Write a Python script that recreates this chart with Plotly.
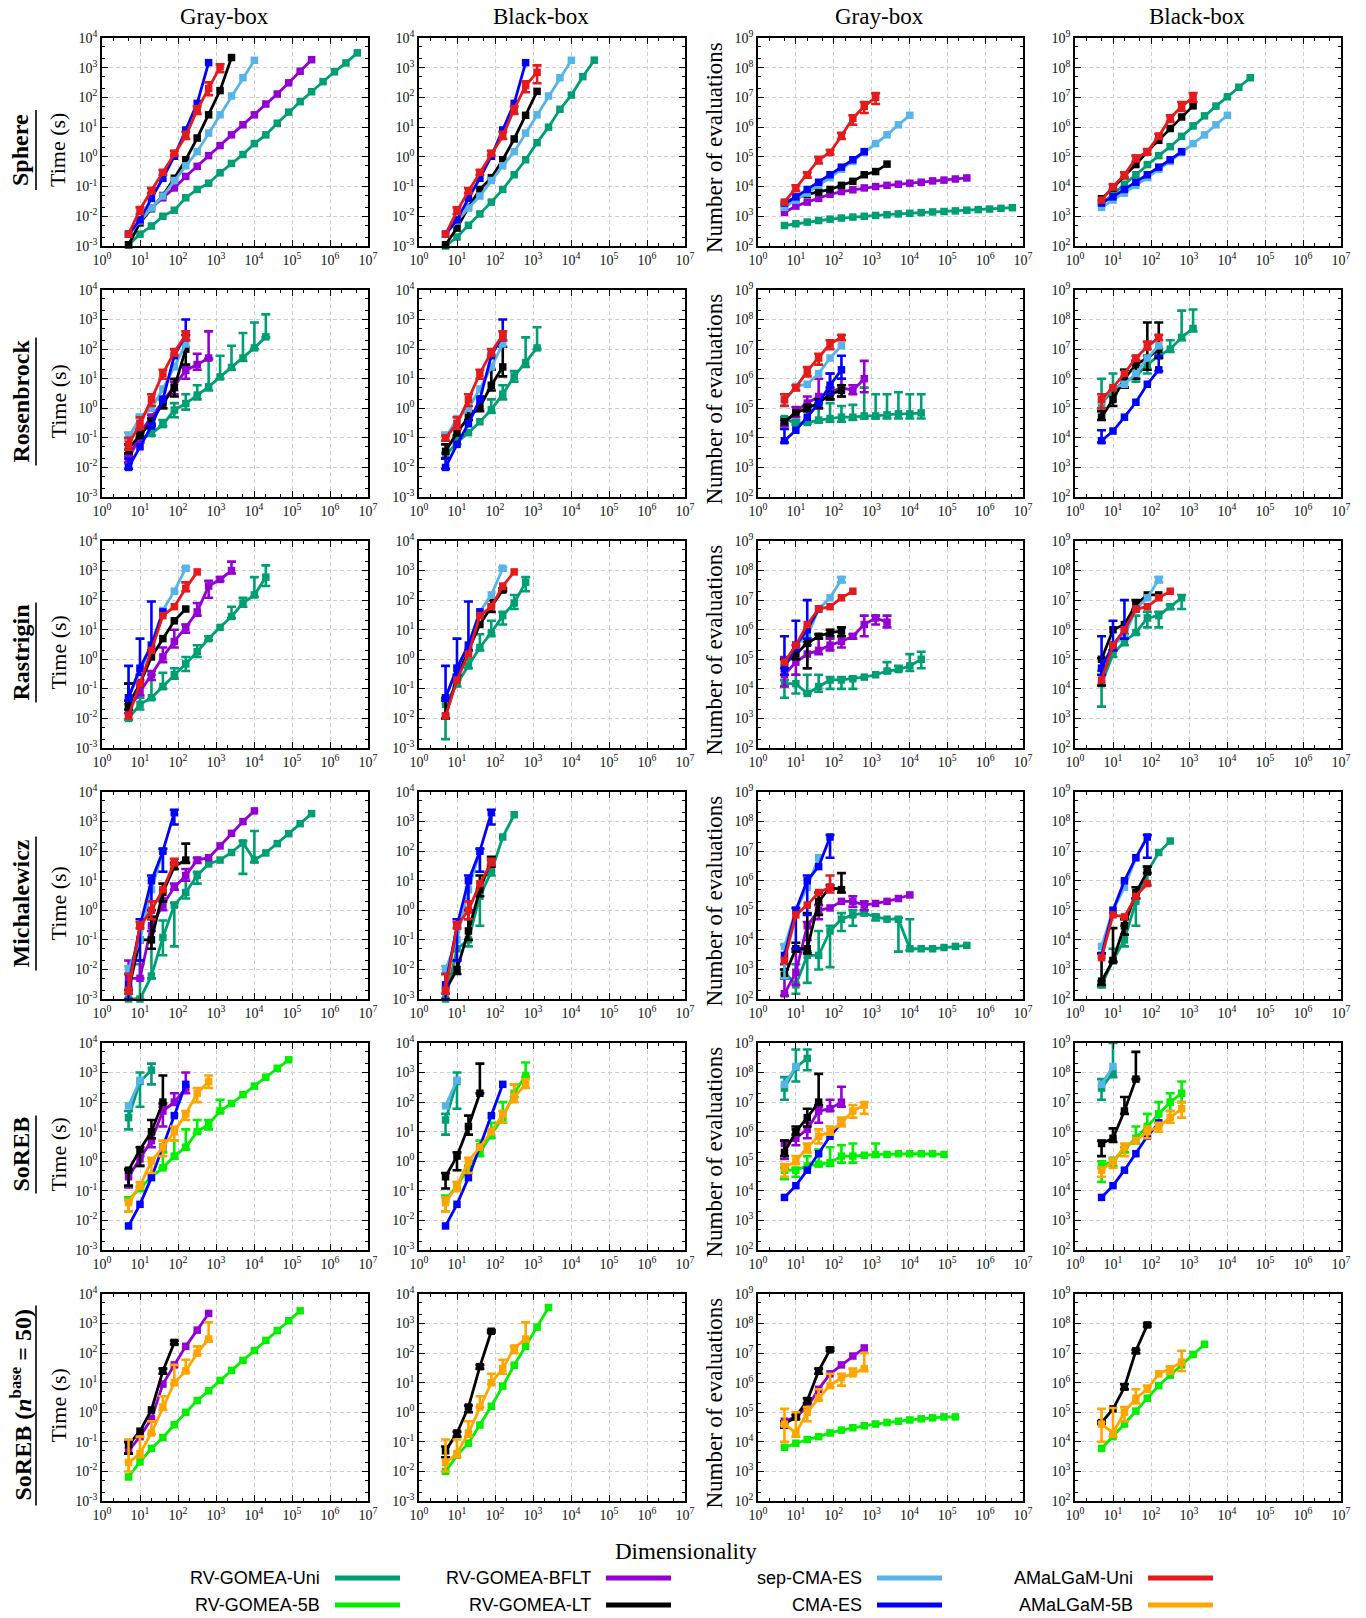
import plotly.graph_objects as go

W, H = 1366, 1618
PAGE_OFF = 8  # browser body margin around the plot div

DIMS = [5, 10, 20, 40, 80, 160, 320, 640, 1280, 2560, 5120, 10240, 20480, 40960,
        81920, 163840, 327680, 655360, 1310720, 2621440, 5242880]

SERIES_ORDER = ['uni', '5b', 'bflt', 'lt', 'sep', 'cma', 'amu', 'am5']
SERIES_NAMES = {'uni': 'RV-GOMEA-Uni', '5b': 'RV-GOMEA-5B', 'bflt': 'RV-GOMEA-BFLT',
                'lt': 'RV-GOMEA-LT', 'sep': 'sep-CMA-ES', 'cma': 'CMA-ES',
                'amu': 'AMaLGaM-Uni', 'am5': 'AMaLGaM-5B'}
COLORS = {'uni': '#009E73', '5b': '#00F000', 'bflt': '#9400D3', 'lt': '#000000',
          'sep': '#56B4E9', 'cma': '#0000FF', 'amu': '#E41A1C', 'am5': '#FFA500'}

COL_TITLES = ['Gray-box', 'Black-box', 'Gray-box', 'Black-box']
ROW_NAMES = ['<b>Sphere</b>', '<b>Rosenbrock</b>', '<b>Rastrigin</b>', '<b>Michalewicz</b>',
             '<b>SoREB</b>', '<b>SoREB (<i>n</i><sup>base</sup> = 50)</b>']
Y_TITLE_TIME = 'Time (s)'
Y_TITLE_EVALS = 'Number of evaluations'
X_TITLE = 'Dimensionality'
X_TICKS = [1, 10, 100, 1e3, 1e4, 1e5, 1e6, 1e7]
X_TICK_TEXT = ['10<sup>%d</sup>' % k for k in range(0, 8)]
T_TICKS = [1e-3, 1e-2, 1e-1, 1, 10, 100, 1e3, 1e4]
T_TICK_TEXT = ['10<sup>%d</sup>' % k for k in range(-3, 5)]
E_TICKS = [1e2, 1e3, 1e4, 1e5, 1e6, 1e7, 1e8, 1e9]
E_TICK_TEXT = ['10<sup>%d</sup>' % k for k in range(2, 10)]

# ---- data: each point is value or (value, low, high) ----
P_SPH_GT = {
    'uni': [1.1e-3, 2.5e-3, 4.7e-3, 0.01, 0.016, 0.042, 0.08, 0.13, 0.29, 0.6, 1.2, 2.8, 5.5, 13.5,
            32, 72, 155, 340, 730, 1450, 3160],
    'bflt': [2.5e-3, 0.007, 0.019, 0.042, 0.09, 0.22, 0.48, 1.1, 2.4, 5.5, 12, 26, 60, 130, 310, 760, 1860],
    'lt': [1.1e-3, 6e-3, 0.018, 0.05, 0.19, 0.8, 4.3, 26, 170, 2200],
    'sep': [2.5e-3, 7e-3, 0.019, 0.048, 0.16, 0.5, 1.5, 6.3, 26, 112, 460, 1780],
    'cma': [2.5e-3, 7.6e-3, 0.04, 0.19, 1.05, 8, 63, 1480],
    'amu': [2.5e-3, (0.017, 0.012, 0.02), (0.074, 0.06, 0.09), (0.3, 0.25, 0.36), (1.3, 1.1, 1.6),
            (5, 4, 7), (38, 28, 50), (200, 120, 320), (1070, 700, 1300)],
}
P_SPH_BT = {
    'uni': [1e-3, 2e-3, 5e-3, 0.012, 0.03, 0.08, 0.25, 0.8, 3, 10, 40, 120, 500, 1800],
    'lt': [1.1e-3, 4e-3, 0.02, 0.08, 0.2, 0.8, 4, 25, 160],
    'sep': [2.5e-3, 7e-3, 0.019, 0.048, 0.16, 0.5, 1.5, 6.3, 26, 112, 460, 1780],
    'cma': [2.5e-3, 7.6e-3, 0.04, 0.19, 1.05, 8, 63, 1480],
    'amu': [2.5e-3, (0.015, 0.012, 0.02), (0.07, 0.06, 0.09), (0.3, 0.25, 0.36), (1.3, 1.1, 1.6),
            (5, 4, 7), (40, 28, 50), (250, 150, 350), (700, 300, 1200)],
}
P_SPH_GE = {
    'uni': [490, 560, 640, 720, 800, 870, 940, 1000, 1070, 1130, 1200, 1260, 1330, 1400, 1450, 1520,
            1600, 1680, 1750, 1850, 1950],
    'bflt': [1350, 2200, 3000, 4000, 5500, 6800, 7800, 9000, 10000, 11000, 12000, 13000, 14000, 15500,
             16500, 18000, 19500],
    'lt': [2500, 4000, 5500, 6500, 8000, 11000, 15000, 25000, 32000, 57000],
    'sep': [2000, 3500, 6000, 1.1e4, 2e4, 3.8e4, 7e4, 1.4e5, 2.8e5, 5.5e5, 1.2e6, 2.5e6],
    'cma': [2800, 4500, 8000, 1.4e4, 2.5e4, 4.5e4, 8e4, 1.5e5],
    'amu': [3000, (9000, 7000, 1.1e4), (2.5e4, 2e4, 3e4), (8e4, 6e4, 1e5), (1.4e5, 1.2e5, 1.7e5),
            (5e5, 4e5, 6.5e5), (2e6, 1.2e6, 2.5e6), (5e6, 3e6, 7e6), (1e7, 6e6, 1.4e7)],
}
P_SPH_BE = {
    'uni': [2800, 5400, 1.2e4, 2.5e4, 5.5e4, 1.1e5, 2.2e5, 4.9e5, 1.1e6, 2.4e6, 5.1e6, 1.05e7, 2.2e7, 4.6e7],
    'lt': [3900, 9000, 2.3e4, 5.5e4, 1.5e5, 3.6e5, 9e5, 2.2e6, 5.2e6],
    'sep': [2000, 3500, 6000, 1.1e4, 2e4, 3.8e4, 7e4, 1.4e5, 2.8e5, 5.5e5, 1.2e6, 2.5e6],
    'cma': [2800, 4500, 8000, 1.4e4, 2.5e4, 4.5e4, 8e4, 1.5e5],
    'amu': [3500, (1e4, 8e3, 1.2e4), (2.5e4, 2e4, 3e4), (9e4, 7e4, 1.1e5), (1.5e5, 1.2e5, 1.8e5),
            (5e5, 4e5, 6e5), (2e6, 1.5e6, 2.5e6), (5e6, 3.5e6, 7e6), (1e7, 7e6, 1.4e7)],
}

P_ROS_GT = {
    'uni': [(0.023, 0.015, 0.03), (0.09, 0.07, 0.12), (0.14, 0.12, 0.2), (0.28, 0.25, 0.4), (0.87, 0.5, 1.5),
            (1.45, 0.9, 3), (2.8, 2, 6), (5.3, 4, 45), (11.5, 10, 60), (24, 20, 130), (50, 40, 350),
            (110, 100, 800), (260, 250, 1500)],
    'bflt': [(0.018, 0.014, 0.025), (0.15, 0.07, 0.2), (0.5, 0.3, 0.6), (1.7, 1, 2.5), (5.3, 3, 8),
             (19, 10, 25), (30, 20, 70), (50, 47, 400)],
    'lt': [(0.045, 0.03, 0.06), (0.12, 0.1, 0.15), (0.35, 0.25, 0.45), (1.5, 1, 2), (5, 2.5, 10), (100, 30, 300)],
    'sep': [(0.1, 0.08, 0.15), (0.5, 0.45, 0.6), 1.0, 4.5, 25, 150],
    'cma': [(0.01, 0.009, 0.02), 0.05, 0.25, 2, 60, (300, 200, 1000)],
    'amu': [(0.06, 0.04, 0.1), (0.3, 0.2, 0.5), (2, 1.2, 3), (15, 10, 20), (80, 60, 100), (300, 200, 400)],
}
P_ROS_BT = {
    'uni': [(0.025, 0.02, 0.03), (0.07, 0.06, 0.1), 0.15, 0.35, (0.9, 0.7, 2), (3, 2, 6), (12, 8, 18),
            (35, 25, 250), (110, 100, 550)],
    'lt': [(0.035, 0.02, 0.06), (0.15, 0.12, 0.2), (0.5, 0.4, 0.8), (1.1, 0.8, 2.5), (6, 4, 20), (25, 12, 120)],
    'sep': [(0.1, 0.08, 0.15), 0.45, 1.0, 4.5, 25, 150],
    'cma': [(0.01, 0.009, 0.02), 0.06, 0.3, 2, 60, (300, 200, 1000)],
    'amu': [(0.1, 0.08, 0.12), (0.3, 0.2, 0.5), (2, 1.2, 3), (15, 10, 20), (80, 60, 100), (300, 200, 400)],
}
P_ROS_GE = {
    'uni': [(4.5e4, 3e4, 5e4), (3.1e4, 2.8e4, 4e4), (3.3e4, 3e4, 1e5), (4e4, 3.3e4, 1.5e5), (4.5e4, 3.5e4, 1.5e5),
            (5e4, 3.5e4, 1.2e5), (5e4, 4e4, 1.3e5), (5.5e4, 4.5e4, 5e5), (5.5e4, 4.5e4, 3e5), (6e4, 4.5e4, 3e5),
            (6.5e4, 4.5e4, 3.5e5), (6.5e4, 4.5e4, 3e5), (7e4, 4.5e4, 3e5)],
    'bflt': [(3e4, 2.5e4, 4e4), (8e4, 5e4, 1.1e5), (1.5e5, 8e4, 2.5e5), (2.5e5, 1e5, 1e6), (3.5e5, 2e5, 1.5e6),
             (5e5, 2.5e5, 1e6), (4e5, 3e5, 6e5), (1e6, 3.5e5, 4e6)],
    'lt': [3.5e4, 7e4, (1e5, 8e4, 1.3e5), (1.5e5, 1e5, 2e5), (3e5, 2e5, 5e5), (4e5, 2.5e5, 6e5)],
    'sep': [1.7e5, 5.5e5, 6.5e5, 1.5e6, 5e6, 1.3e7],
    'cma': [(8e3, 7e3, 2e4), 1.8e4, 5e4, 1.5e5, (6e5, 3e5, 1.5e6), (2e6, 1e6, 6e6)],
    'amu': [(2e5, 1.2e5, 3e5), (5e5, 4e5, 6e5), (1.8e6, 1.2e6, 2.5e6), (5e6, 3e6, 7e6), (1.5e7, 1e7, 2e7),
            (2.5e7, 2e7, 3e7)],
}
P_ROS_BE = {
    'uni': [(1.5e5, 8e4, 1e6), (4e5, 3e5, 1.5e6), (8e5, 5e5, 2e6), (1.2e6, 8e5, 3e6), (3e6, 1.5e6, 6e6),
            (6e6, 5e6, 1e7), (1e7, 8e6, 2e7), (2.5e7, 2e7, 2e8), (5e7, 4e7, 2.2e8)],
    'lt': [(5e4, 4e4, 8e4), (2e5, 1.2e5, 4e5), (1e6, 5e5, 2e6), (3e6, 1e6, 4e6), (5e6, 2e6, 8e7), (1e7, 5e6, 8e7)],
    'sep': [1.7e5, 5e5, 6.5e5, 1.5e6, 5e6, 1.3e7],
    'cma': [(8e3, 7e3, 1.8e4), 1.7e4, 5e4, 1.6e5, 6.5e5, (2e6, 1.8e6, 6e6)],
    'amu': [(2e5, 1e5, 3e5), 5e5, 1.5e6, (5e6, 4e6, 6e6), (1.2e7, 1e7, 1.8e7), (2.5e7, 2e7, 3e7)],
}

P_RAS_GT = {
    'uni': [(0.01, 0.009, 0.03), (0.03, 0.02, 0.05), (0.05, 0.045, 0.3), (0.12, 0.1, 0.35), (0.3, 0.22, 0.5),
            (0.7, 0.4, 1.2), (1.8, 1.2, 3), (5, 4.5, 6), 12, (28, 25, 60), (80, 60, 120), (150, 130, 600),
            (600, 300, 1500)],
    'bflt': [(0.02, 0.015, 0.15), (0.08, 0.06, 0.2), (0.3, 0.2, 0.4), (1.2, 0.8, 2.5), (4, 2.5, 10), (12, 8, 15),
             (40, 30, 80), (300, 120, 450), (500, 450, 600), (1000, 800, 2000)],
    'lt': [(0.03, 0.02, 0.15), 0.15, 1.2, 5, 20, 50],
    'sep': [0.05, 0.4, 3, 45, 200, (1200, 1000, 1300)],
    'cma': [(0.05, 0.04, 0.6), (0.5, 0.3, 5), (3, 2, 90), 40],
    'amu': [0.012, 0.15, 2, 30, 60, (250, 200, 400), 900],
}
P_RAS_BT = {
    'uni': [(0.03, 0.002, 0.04), (0.15, 0.12, 0.2), (0.6, 0.5, 1), (2.5, 2, 7), (8, 6, 20), (30, 15, 40),
            (80, 50, 150), (400, 200, 600)],
    'lt': [(0.012, 0.01, 0.05), 0.25, 2, 15, (60, 40, 100), (220, 200, 250)],
    'sep': [0.05, 0.5, 3, 40, 150, (1200, 1000, 1300)],
    'cma': [(0.05, 0.04, 0.6), (0.5, 0.3, 5), (3, 2, 90), 40],
    'amu': [0.012, 0.2, 1.5, 30, 60, 300, 900],
}
P_RAS_GE = {
    'uni': [(1.5e4, 5e3, 2e4), (1.5e4, 7e3, 3e4), (7e3, 7e3, 3e4), (1.2e4, 8e3, 3e4), (2e4, 1e4, 2.5e4),
            (2e4, 1e4, 2.5e4), (2.2e4, 1e4, 2.5e4), 2.5e4, 3e4, (4e4, 3.5e4, 8e4), (4.5e4, 4e4, 6e4),
            (6e4, 4e4, 1.5e5), (1e5, 5e4, 1.8e5)],
    'bflt': [(3e4, 1.2e4, 1.2e5), (8e4, 3e4, 3e5), (1.5e5, 5e4, 3e5), (2e5, 1.5e5, 5e5), (3e5, 2e5, 5e5),
             (4e5, 2.5e5, 6e5), (6e5, 5e5, 7e5), (1.5e6, 6e5, 3e6), (2.5e6, 1.5e6, 3e6), (1.8e6, 1.2e6, 3e6)],
    'lt': [(7e4, 5e4, 1e5), (1.5e5, 1e5, 2e5), (3.5e5, 5e4, 4e5), (6e5, 5e5, 7e5), (8e5, 6e5, 1e6),
           (9e5, 6e5, 1.2e6)],
    'sep': [5e4, 3e5, 6e5, 5e6, 1.2e7, (5e7, 4e7, 6e7)],
    'cma': [(5e4, 3e4, 6e5), (3e5, 2e5, 2e6), (1e6, 5e5, 1e7), 5e6],
    'amu': [8e4, 3e5, 1.5e6, 5e6, 6e6, 1.2e7, 2e7],
}
P_RAS_BE = {
    'uni': [(1.5e4, 2.5e3, 4e4), (1.5e5, 1.2e5, 2e5), (4e5, 3e5, 7e5), (8e5, 7e5, 3e6), (2.5e6, 1.2e6, 4e6),
            (3e6, 1.2e6, 4e6), (6e6, 5e6, 7e6), (1.2e7, 5e6, 1.5e7)],
    'lt': [(1e5, 1.3e4, 1.1e5), 1e6, 1.5e6, (7e6, 5e6, 1e7), 1.5e7, 1.5e7],
    'sep': [5e4, 3e5, 6e5, 5e6, 1.2e7, (5e7, 4e7, 6e7)],
    'cma': [(5e4, 3e4, 6e5), (3e5, 2e5, 2e6), (1e6, 5e5, 1e7), 5e6],
    'amu': [2e4, 3e5, 1e6, 5e6, 6e6, 1.2e7, 2e7],
}

P_MIC_GT = {
    'uni': [1e-3, (1e-3, 1e-3, 0.015), (0.006, 0.005, 0.6), (0.12, 0.03, 0.45), (1.5, 0.06, 1.8), (4, 2.5, 10),
            (15, 8, 20), 37, 50, 90, (190, 17, 220), (50, 42, 480), 87, 180, 390, 850, 1860],
    'bflt': [(0.005, 0.002, 0.02), (0.005, 0.005, 0.02), (0.3, 0.2, 0.5), (1.5, 1, 2.5), (6, 5, 8), (15, 10, 25),
             (50, 40, 60), 60, 150, 400, 1000, 2300],
    'lt': [0.002, 0.1, (0.1, 0.05, 0.6), (4, 2, 8), (30, 25, 40), (50, 40, 180)],
    'sep': [(0.01, 0.001, 0.013), 0.1, 5, (100, 20, 120)],
    'cma': [(0.003, 0.001, 0.007), (0.3, 0.02, 0.5), (10, 1, 15), (100, 20, 120), (2000, 800, 2500)],
    'amu': [(0.002, 0.0015, 0.007), (0.3, 0.25, 0.4), (1, 0.5, 2), 5, (40, 35, 55)],
}
P_MIC_BT = {
    'uni': [1e-3, 0.05, (0.1, 0.06, 0.5), (3, 0.3, 5), (20, 15, 50), 300, 1700],
    'lt': [0.002, (0.01, 0.007, 0.02), (0.2, 0.1, 1), (5, 3, 15), (50, 30, 65)],
    'sep': [(0.01, 0.001, 0.013), 0.1, 5, (100, 20, 120)],
    'cma': [(0.003, 0.001, 0.007), (0.3, 0.02, 0.5), (10, 1, 15), (100, 20, 120), (2000, 800, 2500)],
    'amu': [(0.002, 0.0015, 0.007), (0.3, 0.25, 0.4), (1, 0.5, 2), 8, (40, 35, 55)],
}
P_MIC_GE = {
    'uni': [(800, 500, 1000), (300, 150, 1500), (3000, 350, 4000), (3e3, 1e3, 2e4), (2e4, 1.2e3, 3e4),
            (5e4, 2e4, 8e4), (7e4, 3e4, 1e5), (8e4, 7e4, 1e5), (6e4, 4.5e4, 7e4), 5e4, (5e4, 4e3, 5.5e4),
            (5e3, 4.5e3, 5e4), 5e3, 5e3, 5.5e3, 6e3, 6.5e3],
    'bflt': [(150, 130, 1500), (800, 300, 5000), (3e4, 1e4, 4e4), (1e5, 5e4, 1.5e5), 1.2e5, 2e5,
             (2e5, 1.3e5, 3e5), (1.5e5, 1e5, 2e5), 1.7e5, 2e5, 2.5e5, 3.3e5],
    'lt': [(600, 500, 1000), (5e3, 4e3, 8e3), (5e3, 3.5e3, 8e4), (2e5, 7e4, 4e5), (6e5, 5e5, 7e5),
           (5e5, 4e5, 1.8e6)],
    'sep': [(6e3, 500, 7e3), 1e5, 6e5, 6e6],
    'cma': [3e3, (1e5, 5e3, 1.2e5), (1e6, 7e4, 1.5e6), 3e6, (3e7, 6e6, 3.5e7)],
    'amu': [2e3, 7e4, 1.5e5, 4e5, (6e5, 4e5, 1.5e6)],
}
P_MIC_BE = {
    'uni': [(300, 250, 400), (2e3, 1.8e3, 5e3), (1e4, 6e3, 3e4), (2e5, 3e4, 2.5e5), (2e6, 7e5, 3e6), 9e6, 2.2e7],
    'lt': [(400, 300, 3500), (2e3, 1.8e3, 2.5e4), (3e4, 1.5e4, 5e4), (4e5, 2.5e5, 6e5), (2e6, 1.8e6, 3e6)],
    'sep': [6e3, 1e5, 6e5, 6e6],
    'cma': [3e3, 1e5, 1e6, 6e6, (3e7, 6e6, 3.5e7)],
    'amu': [2.5e3, 7e4, 6e4, 3e5, 8e5],
}

P_SOR_GT = {
    'uni': [(30, 12, 50), (500, 70, 1000), (1200, 400, 2000)],
    '5b': [(0.05, 0.02, 0.06), (0.12, 0.1, 0.14), 0.3, (0.6, 0.6, 2), (1.5, 1.2, 5), (3, 2.5, 12), (10, 9, 25),
           (18, 12, 25), (50, 45, 120), 90, 180, 350, 700, 1400, 2700],
    'bflt': [(0.3, 0.13, 0.5), (1.2, 0.7, 1.5), (5, 3, 6), (50, 15, 70), (100, 80, 200), (300, 200, 1000)],
    'lt': [(0.5, 0.15, 0.55), (2.5, 0.7, 3), (10, 6, 25), (100, 90, 800)],
    'sep': [75, 550],
    'cma': [0.0065, 0.035, 0.28, 3, 35, 400],
    'am5': [(0.04, 0.02, 0.05), (0.15, 0.12, 0.2), (1, 0.4, 1.3), (3, 1.5, 5), (10, 5, 15), (40, 25, 50),
            (200, 100, 300), (500, 300, 800)],
}
P_SOR_BT = {
    'uni': [(25, 8, 40), (500, 60, 1000)],
    '5b': [(0.05, 0.02, 0.07), (0.15, 0.1, 0.2), (0.6, 0.5, 0.7), (2, 1.5, 5), (8, 6, 20), (30, 20, 100),
           (200, 150, 400), (800, 700, 2200)],
    'lt': [(0.3, 0.12, 0.4), (1.5, 0.5, 2), (15, 8, 35), (200, 200, 2000)],
    'sep': [75, 550],
    'cma': [0.0065, 0.035, 0.28, 3, 35, 400],
    'am5': [(0.04, 0.02, 0.06), (0.15, 0.1, 0.2), (1, 0.4, 1.3), 3, 10, (40, 20, 50), (150, 100, 400),
            (400, 300, 600)],
}
P_SOR_GE = {
    'uni': [(3e7, 1.2e7, 7e7), (1.5e8, 5e7, 6e8), (3e8, 1.2e8, 6e8)],
    '5b': [(5e4, 2.5e4, 6e4), (5e4, 3e4, 6e4), (7e4, 6e4, 1.5e5), (8e4, 7e4, 2.5e5), (9e4, 7e4, 3e5),
           (1.5e5, 9e4, 3.5e5), (1.5e5, 9e4, 4e5), 1.6e5, (1.7e5, 1.5e5, 4e5), 1.7e5, 1.8e5, 1.8e5, 1.8e5,
           1.8e5, 1.7e5],
    'bflt': [(4e5, 1.2e5, 5e5), (6e5, 3.5e5, 1.2e6), (1.2e6, 6e5, 2e6), (5e6, 2e6, 7e6), (6e6, 5e6, 1.2e7),
             (1e7, 7e6, 3.3e7)],
    'lt': [(2e5, 1.5e5, 5e5), (1e6, 8e5, 1.5e6), (3e6, 1.5e6, 6e6), (1e7, 8e6, 9e7)],
    'sep': [4e7, 1.6e8],
    'cma': [6e3, 1.5e4, 5e4, 1.8e5, 7e5, 2e6],
    'am5': [(6e4, 3e4, 8e4), (1e5, 8e4, 1.5e5), (3e5, 2e5, 4e5), (7e5, 4e5, 1.2e6), (1e6, 8e5, 1.5e6),
            (2e6, 1.5e6, 3e6), (5e6, 3e6, 8e6), (8e6, 4e6, 1e7)],
}
P_SOR_BE = {
    'uni': [(3e7, 1.2e7, 6e7), (1e8, 7e7, 1e9)],
    '5b': [(7e4, 2e4, 1e5), (1e5, 7e4, 1.3e5), (2.5e5, 2e5, 3e5), (6e5, 4e5, 1.5e6), (1.5e6, 1e6, 4e6),
           (4e6, 2e6, 1e7), (1e7, 5e6, 2e7), (2e7, 1e7, 5e7)],
    'lt': [(4e5, 1.5e5, 5e5), (6e5, 4.5e5, 1.3e6), (5e6, 4e6, 1.5e7), (6e7, 6e7, 5e8)],
    'sep': [4e7, 1.6e8],
    'cma': [6e3, 1.5e4, 5e4, 1.8e5, 7e5, 2e6],
    'am5': [(5e4, 3e4, 6e4), (1e5, 6e4, 1.2e5), (3e5, 1.5e5, 4e5), 5e5, (1e6, 6e5, 1.5e6), (1.5e6, 1e6, 2e6),
            (3e6, 2e6, 5e6), (6e6, 3e6, 1e7)],
}

P_S50_GT = {
    '5b': [0.0065, 0.021, 0.06, 0.14, 0.38, 1, 2.5, 5.3, 12, 26, 57, 122, 270, 580, 1250, 2700],
    'bflt': [(0.05, 0.04, 0.1), 0.15, 0.6, 9, 40, 170, 600, 2200],
    'lt': [(0.08, 0.04, 0.1), 0.23, 1.2, (25, 20, 30), (230, 200, 260)],
    'am5': [(0.02, 0.01, 0.12), (0.04, 0.03, 0.15), (0.2, 0.18, 0.5), (1.5, 1.2, 3.5), (10, 9, 40),
            (25, 22, 60), (100, 90, 170), (300, 250, 1100)],
}
P_S50_BT = {
    '5b': [0.01, 0.035, 0.09, 0.37, 1.6, 7.7, 39, 170, 760, 3500],
    'lt': [(0.05, 0.03, 0.07), (0.2, 0.15, 0.22), (1.5, 1, 1.7), (35, 30, 40), (550, 500, 600)],
    'am5': [(0.02, 0.01, 0.12), (0.04, 0.03, 0.12), (0.2, 0.15, 0.5), (1.5, 1.5, 3.5), (10, 9, 20),
            (30, 20, 60), (150, 100, 170), (300, 250, 1100)],
}
P_S50_GE = {
    '5b': [6.5e3, 9e3, 1.2e4, 1.5e4, 2e4, 2.5e4, 3e4, 3.5e4, 4e4, 4.5e4, 5e4, 5.5e4, 6e4, 6.5e4, 7e4, 7e4],
    'bflt': [5e4, 7e4, 1.5e5, 6e5, 2e6, 4e6, 8e6, 1.5e7],
    'lt': [(4e4, 3e4, 5e4), (7e4, 6e4, 8e4), (2.5e5, 2e5, 3e5), (2.5e6, 2e6, 3e6), (1.3e7, 1.2e7, 1.5e7)],
    'am5': [(4e4, 1e4, 1.3e5), (2e4, 1.5e4, 1e5), (1e5, 5e4, 1.5e5), (3e5, 2.5e5, 6e5), (8e5, 7e5, 2e6),
            (1.5e6, 8e5, 2e6), (2e6, 1.8e6, 3e6), (3e6, 2.5e6, 1e7)],
}
P_S50_BE = {
    '5b': [6e3, 1.5e4, 4e4, 1.1e5, 3e5, 8e5, 1.8e6, 4e6, 9e6, 2e7],
    'lt': [(4.5e4, 4e4, 5e4), 1.3e5, (7e5, 6e5, 9e5), (1.2e7, 1e7, 1.3e7), (9e7, 8e7, 1e8)],
    'am5': [(4e4, 1e4, 1.3e5), (2e4, 1.5e4, 1.4e5), (1e5, 5e4, 1.5e5), (3e5, 2e5, 6e5), (6e5, 5e5, 8e5), 2e6,
            (3e6, 2e6, 3.5e6), (5e6, 2.5e6, 1.2e7)],
}

GRID = [
    [P_SPH_GT, P_SPH_BT, P_SPH_GE, P_SPH_BE],
    [P_ROS_GT, P_ROS_BT, P_ROS_GE, P_ROS_BE],
    [P_RAS_GT, P_RAS_BT, P_RAS_GE, P_RAS_BE],
    [P_MIC_GT, P_MIC_BT, P_MIC_GE, P_MIC_BE],
    [P_SOR_GT, P_SOR_BT, P_SOR_GE, P_SOR_BE],
    [P_S50_GT, P_S50_BT, P_S50_GE, P_S50_BE],
]

# ---- layout geometry (screen pixels) ----
COL_X = [(102, 368), (419, 685), (758, 1023), (1075, 1341)]
ROW_Y = [(38, 246), (290, 497), (541, 748), (792, 999), (1043, 1250), (1294, 1501)]
ROW_LABEL_LEN = [80, 128, 100, 134, 78, 200]

SERIF = 'Liberation Serif, Times New Roman, serif'
SANS = 'Liberation Sans, Arial, sans-serif'


def px(x):
    return (x - PAGE_OFF) / W


def py(y):
    return 1 - (y - PAGE_OFF) / H


fig = go.Figure()
layout_axes = {}

for r, row in enumerate(GRID):
    for c, panel in enumerate(row):
        n = r * 4 + c + 1
        xs_name = 'x' if n == 1 else 'x%d' % n
        ys_name = 'y' if n == 1 else 'y%d' % n
        for key in SERIES_ORDER:
            if key not in panel:
                continue
            pts = panel[key]
            xs, ys = [], []
            ex, ey, eup, edn = [], [], [], []
            for i, p in enumerate(pts):
                d = DIMS[i]
                if isinstance(p, tuple):
                    v, lo, hi = p
                    ex.append(d)
                    ey.append(v)
                    eup.append(hi - v)
                    edn.append(v - lo)
                else:
                    v = p
                xs.append(d)
                ys.append(v)
            col = COLORS[key]
            if ex:
                fig.add_trace(go.Scatter(
                    x=ex, y=ey, mode='markers', xaxis=xs_name, yaxis=ys_name,
                    marker=dict(size=1, color='rgba(0,0,0,0)'),
                    error_y=dict(type='data', symmetric=False, array=eup, arrayminus=edn,
                                 color=col, thickness=2.6, width=4.5),
                    showlegend=False, hoverinfo='skip', cliponaxis=False))
            fig.add_trace(go.Scatter(
                x=xs, y=ys, mode='lines+markers', xaxis=xs_name, yaxis=ys_name,
                line=dict(color=col, width=2.8),
                marker=dict(symbol='square', size=7.5, color=col),
                name=SERIES_NAMES[key], showlegend=False, cliponaxis=False))

        x0, x1 = COL_X[c]
        y0, y1 = ROW_Y[r]
        is_time = c < 2
        axis_common = dict(
            type='log', showline=True, linecolor='black', linewidth=1.6, mirror='ticks',
            ticks='inside', ticklen=6, tickwidth=1.2, tickcolor='black', automargin=False,
            showgrid=True, gridcolor='#cdcdcd', griddash='4px,3px', gridwidth=1,
            zeroline=False, tickfont=dict(family=SERIF, size=14, color='#111'),
            minor=dict(ticks='inside', ticklen=3, tickwidth=1, tickcolor='black', showgrid=False),
        )
        xa = dict(axis_common)
        xa.update(domain=[px(x0), px(x1)], range=[0, 7], anchor=ys_name,
                  tickvals=X_TICKS, ticktext=X_TICK_TEXT)
        ya = dict(axis_common)
        ya.update(domain=[py(y1), py(y0)], anchor=xs_name,
                  range=[-3, 4] if is_time else [2, 9],
                  tickvals=T_TICKS if is_time else E_TICKS,
                  ticktext=T_TICK_TEXT if is_time else E_TICK_TEXT)
        layout_axes['xaxis' if n == 1 else 'xaxis%d' % n] = xa
        layout_axes['yaxis' if n == 1 else 'yaxis%d' % n] = ya

annotations = []
shapes = []

# column titles
for c, t in enumerate(COL_TITLES):
    cx = (COL_X[c][0] + COL_X[c][1]) / 2 - 11
    annotations.append(dict(x=px(cx), y=py(17), xref='paper', yref='paper', text=t, showarrow=False,
                            font=dict(family=SERIF, size=23, color='black'), xanchor='center', yanchor='middle'))

# row labels (fraction style) and y titles
for r, name in enumerate(ROW_NAMES):
    cy = (ROW_Y[r][0] + ROW_Y[r][1]) / 2 + 8
    annotations.append(dict(x=px(20), y=py(cy), xref='paper', yref='paper', text=name, showarrow=False,
                            textangle=-90, font=dict(family=SERIF, size=24, color='black'),
                            xanchor='center', yanchor='middle'))
    annotations.append(dict(x=px(58), y=py(cy), xref='paper', yref='paper', text=Y_TITLE_TIME,
                            showarrow=False, textangle=-90, font=dict(family=SERIF, size=22, color='black'),
                            xanchor='center', yanchor='middle'))
    L = ROW_LABEL_LEN[r]
    shapes.append(dict(type='line', xref='paper', yref='paper', x0=px(36), x1=px(36),
                       y0=py(cy - L / 2), y1=py(cy + L / 2), line=dict(color='black', width=1.6)))
    annotations.append(dict(x=px(714), y=py((ROW_Y[r][0] + ROW_Y[r][1]) / 2 + 6), xref='paper', yref='paper',
                            text=Y_TITLE_EVALS, showarrow=False, textangle=-90,
                            font=dict(family=SERIF, size=23, color='black'),
                            xanchor='center', yanchor='middle'))

annotations.append(dict(x=px(686), y=py(1551), xref='paper', yref='paper', text=X_TITLE, showarrow=False,
                        font=dict(family=SERIF, size=23, color='black'), xanchor='center', yanchor='middle'))

# legend (text right-aligned, then line sample)
LEGEND_ROWS = [['uni', 'bflt', 'sep', 'amu'], ['5b', 'lt', 'cma', 'am5']]
LEGEND_TEXT_RIGHT = [322, 593, 864, 1135]
LEGEND_Y = [1578, 1605]
for ri, lrow in enumerate(LEGEND_ROWS):
    for ci, key in enumerate(lrow):
        xr = LEGEND_TEXT_RIGHT[ci]
        yy = LEGEND_Y[ri]
        annotations.append(dict(x=px(xr), y=py(yy), xref='paper', yref='paper', text=SERIES_NAMES[key],
                                showarrow=False, font=dict(family=SANS, size=18, color='black'),
                                xanchor='right', yanchor='middle'))
        shapes.append(dict(type='line', xref='paper', yref='paper', x0=px(xr + 13), x1=px(xr + 78),
                           y0=py(yy), y1=py(yy), line=dict(color=COLORS[key], width=5)))

fig.update_layout(
    width=W, height=H, autosize=False,
    margin=dict(l=0, r=0, t=0, b=0, pad=0, autoexpand=False),
    paper_bgcolor='white', plot_bgcolor='white',
    showlegend=False,
    annotations=annotations, shapes=shapes,
    **layout_axes,
)

fig.write_html('out.html')
